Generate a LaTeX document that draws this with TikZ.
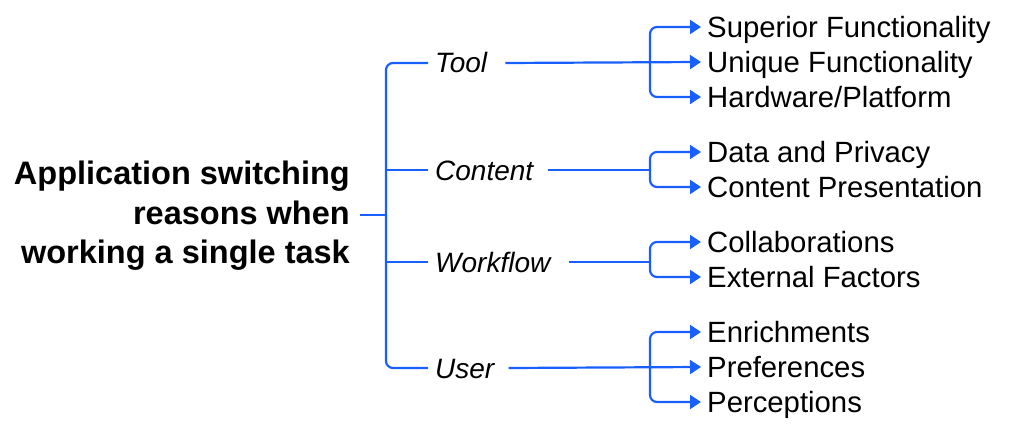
\documentclass[tikz,border=0pt]{standalone}
\usepackage{fontspec}
\setmainfont{Liberation Sans}
\usetikzlibrary{arrows.meta}
\definecolor{lineblue}{RGB}{25,95,255}
\tikzset{
  conn/.style={draw=lineblue, line width=2.2pt, rounded corners=7pt},
  arr/.style={conn, -{Triangle[length=11pt,width=14pt]}},
  cat/.style={anchor=west, inner sep=0pt, text height=20pt, text depth=0pt, font=\fontsize{28}{30}\selectfont\itshape},
  item/.style={anchor=west, inner sep=0pt, text height=21pt, text depth=0pt, font=\fontsize{29.3}{30}\selectfont},
  titlebox/.style={anchor=east, inner sep=0pt, align=right, font=\fontsize{32.5}{39.5}\selectfont\bfseries}
}
\begin{document}
\begin{tikzpicture}[x=1pt,y=-1pt]
\useasboundingbox (0,0) rectangle (1011,433);
% title
\node[titlebox] (title) at (350,216) {Application switching\\reasons when\\working a single task};
% categories
\node[cat] (tool) at (435,63) {Tool};
\node[cat] (content) at (435,170) {Content};
\node[cat] (workflow) at (435,262) {Workflow};
\node[cat] (user) at (435,368) {User};
% items
\node[item] (sup) at (707,27) {Superior Functionality};
\node[item] (uniq) at (707,62) {Unique Functionality};
\node[item] (hw) at (707,97) {Hardware/Platform};
\node[item] (data) at (707,152) {Data and Privacy};
\node[item] (pres) at (707,187) {Content Presentation};
\node[item] (collab) at (707,242) {Collaborations};
\node[item] (ext) at (707,277) {External Factors};
\node[item] (enr) at (707,332) {Enrichments};
\node[item] (pref) at (707,367) {Preferences};
\node[item] (perc) at (707,402) {Perceptions};
% junctions
\coordinate (root) at (360,215);
\coordinate (spine) at (386,215);
\coordinate (jtool) at (650,62);
\coordinate (jcont) at (650,170);
\coordinate (jwork) at (650,262);
\coordinate (juser) at (650,368);
% left bracket
\draw[conn] (root) -- (spine);
\draw[conn] ([xshift=-7pt]tool.west) -| (spine) |- ([xshift=-7pt]user.west);
\draw[conn] (spine |- content.west) -- ([xshift=-7pt]content.west);
\draw[conn] (spine |- workflow.west) -- ([xshift=-7pt]workflow.west);
% tool
\draw[arr] ([xshift=18pt]tool.east) -- ([xshift=-6pt]uniq.west);
\draw[arr] (jtool) |- ([xshift=-6pt]sup.west);
\draw[arr] (jtool) |- ([xshift=-6pt]hw.west);
% content
\draw[conn] ([xshift=15pt]content.east) -- (jcont);
\draw[arr] (jcont) |- ([xshift=-6pt]data.west);
\draw[arr] (jcont) |- ([xshift=-6pt]pres.west);
% workflow
\draw[conn] ([xshift=18pt]workflow.east) -- (jwork);
\draw[arr] (jwork) |- ([xshift=-6pt]collab.west);
\draw[arr] (jwork) |- ([xshift=-6pt]ext.west);
% user
\draw[arr] ([xshift=14pt]user.east) -- ([xshift=-6pt]pref.west);
\draw[arr] (juser) |- ([xshift=-6pt]enr.west);
\draw[arr] (juser) |- ([xshift=-6pt]perc.west);
\end{tikzpicture}
\end{document}
